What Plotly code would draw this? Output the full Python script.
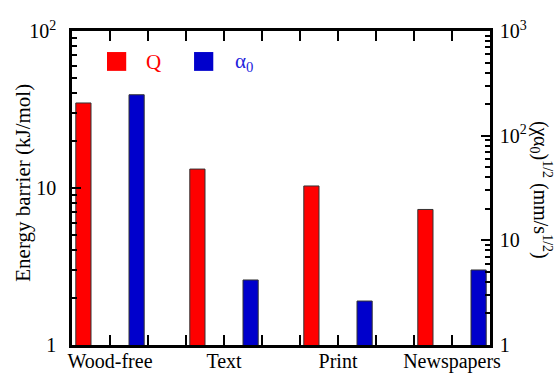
import plotly.graph_objects as go

# Paper grades and measured quantities
categories = ["Wood-free", "Text", "Print", "Newspapers"]
energy_barrier_Q = [34.8, 13.2, 10.3, 7.3]        # kJ/mol, left axis
chi_alpha0_sqrt = [246.0, 4.18, 2.63, 5.21]        # mm/s^1/2, right axis

FONT = "Liberation Serif"
RED = "#FF0000"
BLUE = "#0000CC"

# numeric positions for the category groups (one group every 3 units)
positions = [3 * i + 1 for i in range(len(categories))]

fig = go.Figure()
fig.add_trace(go.Bar(
    x=positions, y=energy_barrier_Q, name="Q",
    offset=-0.9, width=0.4,
    marker=dict(color=RED, line=dict(color="#333333", width=1)),
    yaxis="y", showlegend=False,
))
fig.add_trace(go.Bar(
    x=positions, y=chi_alpha0_sqrt, name="α0",
    offset=0.5, width=0.4,
    marker=dict(color=BLUE, line=dict(color="#333333", width=1)),
    yaxis="y2", showlegend=False,
))

def log_minor(decades):
    return [m * 10 ** d for d in range(decades) for m in range(2, 10)]

tickfont = dict(family=FONT, size=20, color="black")

fig.update_layout(
    width=560, height=375,
    margin=dict(l=72, r=70, t=31, b=30, autoexpand=False),
    paper_bgcolor="white", plot_bgcolor="white",
    barmode="overlay",
    font=dict(family=FONT, size=20, color="black"),
    xaxis=dict(
        range=[0, 11], showgrid=False, zeroline=False, automargin=False,
        showline=True, linecolor="black", linewidth=2.5, mirror="ticks",
        tickmode="array", tickvals=positions, ticktext=categories,
        ticks="inside", ticklen=10, tickwidth=2, tickcolor="black",
        minor=dict(tickmode="array", tickvals=list(range(1, 11)),
                   ticks="inside", ticklen=10, tickwidth=2, tickcolor="black"),
        tickfont=tickfont, ticklabelstandoff=-4,
    ),
    yaxis=dict(
        type="log", range=[0, 2], showgrid=False, zeroline=False, automargin=False,
        showline=True, linecolor="black", linewidth=2.5,
        tickmode="array", tickvals=[1, 10, 100], ticktext=["1", "10", "10<sup>2</sup>"],
        ticks="inside", ticklen=9, tickwidth=2, tickcolor="black",
        minor=dict(tickmode="array", tickvals=log_minor(2),
                   ticks="inside", ticklen=5, tickwidth=2, tickcolor="black"),
        tickfont=tickfont, ticklabelstandoff=9,
    ),
    yaxis2=dict(
        type="log", range=[0, 3], overlaying="y", side="right",
        showgrid=False, zeroline=False, automargin=False,
        showline=True, linecolor="black", linewidth=2.5,
        tickmode="array", tickvals=[1, 10, 100, 1000],
        ticktext=["1", "10", "10<sup>2</sup>", "10<sup>3</sup>"],
        ticks="inside", ticklen=9, tickwidth=2, tickcolor="black",
        minor=dict(tickmode="array", tickvals=log_minor(3),
                   ticks="inside", ticklen=5, tickwidth=2, tickcolor="black"),
        tickfont=tickfont, ticklabelstandoff=3,
    ),
)

# axis titles
fig.add_annotation(
    text="Energy barrier (kJ/mol)", textangle=-90,
    xref="paper", yref="paper", x=-0.117, y=0.517,
    xanchor="center", yanchor="middle",
    showarrow=False, font=dict(family=FONT, size=21, color="black"),
)
fig.add_annotation(
    text="(χα<sub>0</sub>)<sup>1/2</sup> (mm/s<sup>1/2</sup>)", textangle=90,
    xref="paper", yref="paper", x=1.122, y=0.494,
    xanchor="center", yanchor="middle",
    showarrow=False, font=dict(family=FONT, size=20, color="black"),
)

# in-plot legend: coloured squares with series labels
legend_items = [("Q", RED, 0.0837, 0.194), ("α<sub>0</sub>", BLUE, 0.292, 0.385)]
for label, color, sx, tx in legend_items:
    fig.add_shape(type="rect", xref="paper", yref="paper",
                  x0=sx, x1=sx + 0.046, y0=0.873, y1=0.933,
                  fillcolor=color, line=dict(width=0))
for label, color, sx, tx in legend_items:
    fig.add_annotation(
        text=label, xref="paper", yref="paper", x=tx, y=0.9,
        xanchor="center" if label == "Q" else "left", yanchor="middle",
        showarrow=False, font=dict(family=FONT, size=21,
                                   color=color if color == RED else "#2222DD"),
    )

fig.write_html("out.html")
